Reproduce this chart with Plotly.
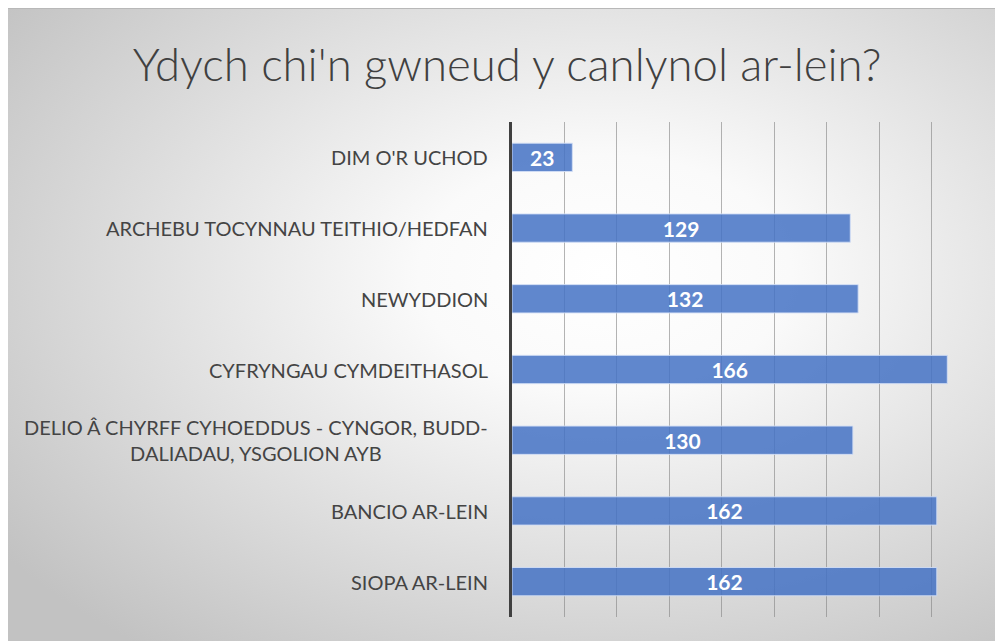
import plotly.graph_objects as go
import base64

categories = [
    "DIM O'R UCHOD",
    "ARCHEBU TOCYNNAU TEITHIO/HEDFAN",
    "NEWYDDION",
    "CYFRYNGAU CYMDEITHASOL",
    "DELIO Â CHYRFF CYHOEDDUS - CYNGOR, BUDD-<br>DALIADAU, YSGOLION AYB",
    "BANCIO AR-LEIN",
    "SIOPA AR-LEIN",
]
values = [23, 129, 132, 166, 130, 162, 162]
title_text = "Ydych chi'n gwneud y canlynol ar-lein?"

# page has an 8px body margin; figure origin is at (8, 8) of the page
W, H = 995, 633
L, R, T, B = 504, 19, 114, 24
pw, ph = W - L - R, H - T - B

svg = (
    '<svg xmlns="http://www.w3.org/2000/svg" width="1000" height="630" preserveAspectRatio="none">'
    '<defs><radialGradient id="g" cx="0.6" cy="0.42" r="0.75" gradientUnits="objectBoundingBox">'
    '<stop offset="0" stop-color="#ffffff"/><stop offset="0.25" stop-color="#fafafa"/>'
    '<stop offset="1" stop-color="#c2c2c2"/></radialGradient></defs>'
    '<rect width="1000" height="630" fill="url(#g)"/></svg>'
)
src = "data:image/svg+xml;base64," + base64.b64encode(svg.encode()).decode()

font = "Lato, 'Open Sans', sans-serif"

fig = go.Figure()
fig.add_trace(go.Bar(
    y=categories, x=values, orientation="h",
    marker=dict(color="rgba(68,114,196,0.85)", line=dict(color="rgba(210,222,245,0.9)", width=1)),
    text=[str(v) for v in values], textposition="inside", insidetextanchor="middle",
    textangle=0,
    textfont=dict(family=font, size=21, color="white", weight="bold"),
    constraintext="none", cliponaxis=False, hoverinfo="skip",
))

for c in categories:
    fig.add_annotation(x=0, y=c, xref="paper", yref="y", text=c, showarrow=False,
                       xanchor="right", xshift=-22, align="center",
                       font=dict(family=font, size=20, color="#444444"))

fig.update_layout(
    width=W, height=H,
    margin=dict(l=L, r=R, t=T, b=B),
    paper_bgcolor="white", plot_bgcolor="rgba(0,0,0,0)",
    bargap=0.6, showlegend=False,
    title=dict(text=title_text, x=499 / W, xanchor="center", y=1 - 57 / H, yanchor="middle",
               font=dict(family=font, size=45.5, color="#404040", weight=300)),
    xaxis=dict(range=[0, 180], dtick=20, showticklabels=False, showgrid=True,
               gridcolor="rgba(130,130,130,0.6)", gridwidth=1, zeroline=False,
               showline=False, ticks="", fixedrange=True),
    yaxis=dict(autorange="reversed", showticklabels=False, showgrid=False, zeroline=False,
               showline=True, linecolor="#404040", linewidth=3, ticks="", fixedrange=True),
    images=[dict(source=src, xref="paper", yref="paper",
                 x=-L / pw, y=(H - B) / ph, sizex=W / pw, sizey=H / ph,
                 xanchor="left", yanchor="top", sizing="stretch", layer="below")],
    shapes=[dict(type="line", xref="paper", yref="paper",
                 x0=-L / pw, x1=(W - L) / pw, y0=(H - B - 0.5) / ph, y1=(H - B - 0.5) / ph,
                 line=dict(color="#b8b8b8", width=1))],
)

fig.write_html("out.html")
